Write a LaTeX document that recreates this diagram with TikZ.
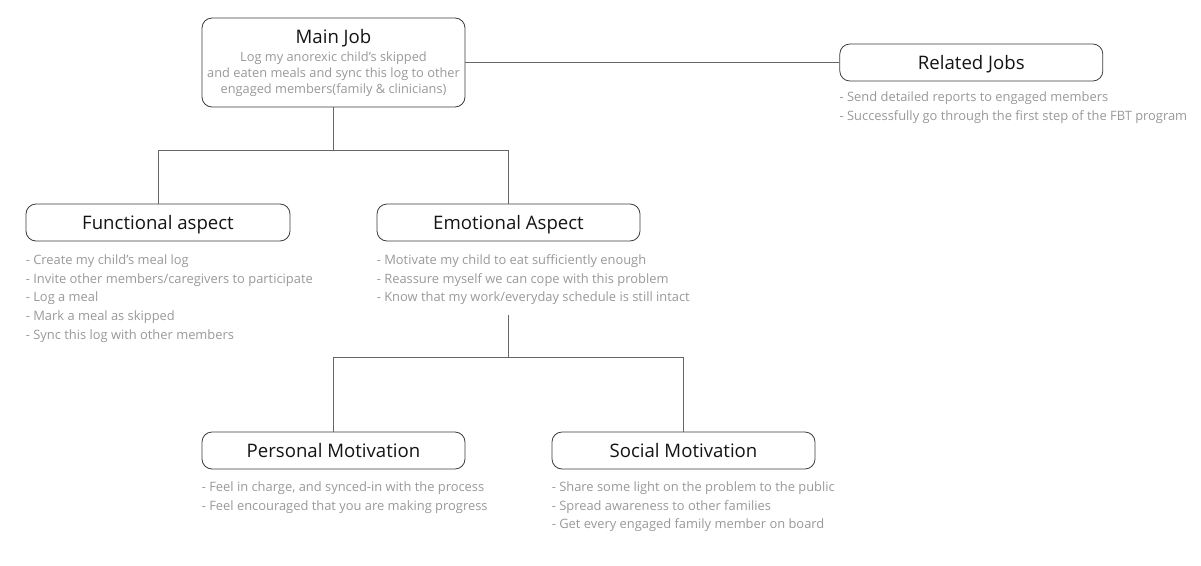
\documentclass[tikz,border=0pt]{standalone}
\usepackage{fontspec}
\setmainfont{Open Sans}
\usetikzlibrary{positioning}
\definecolor{ink}{HTML}{141414}
\definecolor{frame}{HTML}{3C3C3C}
\definecolor{wire}{HTML}{666666}
\definecolor{muted}{HTML}{999999}
\tikzset{
  every node/.style={text=ink},
  jobbox/.style={draw=frame,line width=0.8pt,rounded corners=10pt,fill=white,minimum width=263pt,minimum height=37pt,align=center,inner sep=0pt,text height=13.3pt,text depth=0pt,font=\fontsize{18.6}{21}\selectfont},
  mainbox/.style={jobbox,minimum height=89pt},
  jobtitle/.style={inner sep=0pt,font=\fontsize{18.6}{21}\selectfont},
  subtext/.style={text=muted,align=center,inner sep=0pt,font=\fontsize{12.8}{15.7}\selectfont},
  bullets/.style={text=muted,align=left,inner sep=0pt,font=\fontsize{12.9}{18.8}\selectfont},
  link/.style={draw=wire,line width=0.8pt},
}

\begin{document}
\begin{tikzpicture}[x=1pt,y=-1pt]
\useasboundingbox (0,0) rectangle (1201,565);

% main job and related jobs
\node[mainbox] (main) at (333.5,62.5) {};
\node[jobtitle,anchor=base] (maintitle) at ([yshift=-26pt]main.north) {Main Job};
\node[subtext,anchor=north] (mainsub) at ([yshift=-34.3pt]main.north)
{Log my anorexic child’s skipped\\and eaten meals and sync this log to other\\engaged members(family \& clinicians)};
\node[jobbox,right=374pt of main] (related) {Related Jobs};
\node[bullets,below right=10.3pt and 0pt of related.south west] (relatedlist)
{- Send detailed reports to engaged members\\- Successfully go through the first step of the FBT program};
\draw[link] (main) -- (related);

% aspects
\node[jobbox,minimum width=264pt] (func) at (158,222.5) {Functional aspect};
\node[jobbox] (emo) at (508.5,222.5) {Emotional Aspect};
\node[bullets,below right=12.8pt and 0pt of func.south west] (funclist)
{- Create my child’s meal log\\- Invite other members/caregivers to participate\\- Log a meal\\- Mark a meal as skipped\\- Sync this log with other members};
\node[bullets,below right=12.8pt and 0pt of emo.south west] (emolist)
{- Motivate my child to eat sufficiently enough\\- Reassure myself we can cope with this problem\\- Know that my work/everyday schedule is still intact};
\draw[link] (main.south) -- ++(0,43) coordinate (hubaspect);
\draw[link] (hubaspect) -| (func.north);
\draw[link] (hubaspect) -| (emo.north);

% motivations
\node[jobbox] (pers) at (333.5,450.5) {Personal Motivation};
\node[jobbox] (soc) at (683.5,450.5) {Social Motivation};
\node[bullets,below right=11.8pt and 0pt of pers.south west] (perslist)
{- Feel in charge, and synced-in with the process\\- Feel encouraged that you are making progress};
\node[bullets,below right=11.8pt and 0pt of soc.south west] (soclist)
{- Share some light on the problem to the public\\- Spread awareness to other families\\- Get every engaged family member on board};
\coordinate (emostem) at (emo.south |- 0,315);
\draw[link] (emostem) -- ++(0,42) coordinate (hubmotive);
\draw[link] (hubmotive) -| (pers.north);
\draw[link] (hubmotive) -| (soc.north);

\end{tikzpicture}
\end{document}
